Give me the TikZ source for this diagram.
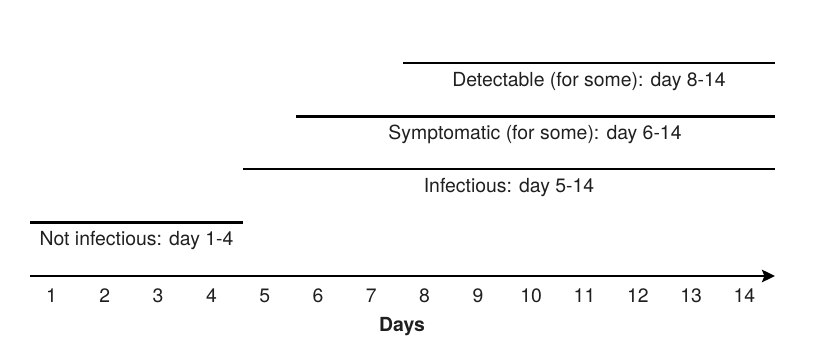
\documentclass[tikz,border=0pt]{standalone}
\usepackage{fontspec}
\setmainfont{TeX Gyre Heros}
\usetikzlibrary{arrows.meta}
\begin{document}
\begin{tikzpicture}[x=0.5pt,y=-0.5pt,
  bar/.style={line width=1.25pt},
  lbl/.style={font=\fontsize{9.7}{12}\selectfont, text=black!88, inner sep=0pt, anchor=center},
  tick/.style={font=\fontsize{9.7}{12}\selectfont, text=black!88, inner sep=0pt, anchor=center}]
\useasboundingbox (0,0) rectangle (835,362);
% axis
\coordinate (ax0) at (30,276);
\coordinate (ax1) at (775,276);
\draw[bar,-{Stealth[length=6.5pt,width=6.2pt,inset=1.2pt]}] (ax0) -- (ax1);
\foreach \d in {1,...,14} {
  \node[tick] (d\d) at ({51.5+(\d-1)*53.3},296) {\d};
}
\node[lbl,font=\fontsize{9.7}{12}\selectfont\bfseries] (days) at (402,327) {Days};
% phases
\coordinate (n0) at (30,222.5);  \coordinate (n1) at (243,222.5);
\draw[bar] (n0) -- (n1);
\node[lbl] (ntxt) at (136.5,241) {Not infectious: day 1-4};
\coordinate (i0) at (243,169);  \coordinate (i1) at (775,169);
\draw[bar] (i0) -- (i1);
\node[lbl] (itxt) at (509,187.5) {Infectious: day 5-14};
\coordinate (s0) at (296,116.5);  \coordinate (s1) at (775,116.5);
\draw[bar] (s0) -- (s1);
\node[lbl] (stxt) at (535,134) {Symptomatic (for some): day 6-14};
\coordinate (t0) at (403,63);  \coordinate (t1) at (775,63);
\draw[bar] (t0) -- (t1);
\node[lbl] (ttxt) at (589,81.5) {Detectable (for some): day 8-14};
\end{tikzpicture}
\end{document}
